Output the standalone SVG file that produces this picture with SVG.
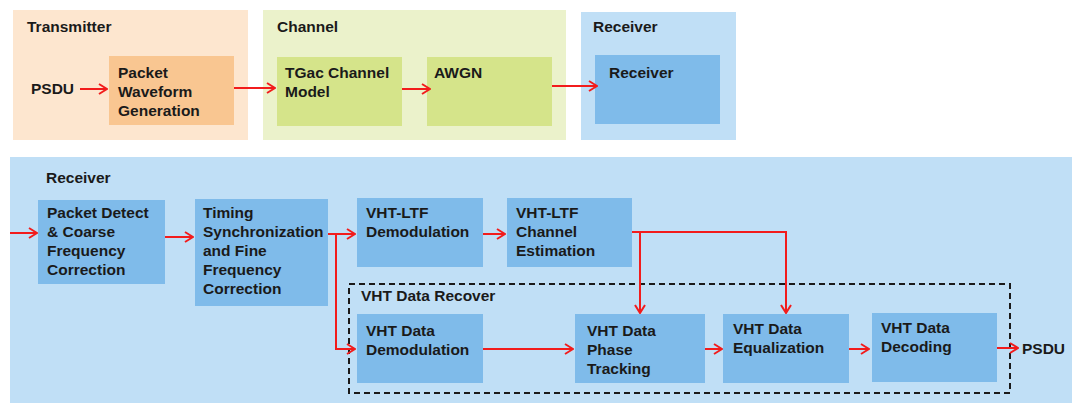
<svg xmlns="http://www.w3.org/2000/svg" width="1072" height="403" viewBox="0 0 1072 403">
<style>
text{font-family:"Liberation Sans",Arial,sans-serif;font-weight:bold;font-size:15.5px;fill:#1a1a1a}
.tx-panel{fill:#fde6cf}
.tx-box{fill:#f9c691}
.ch-panel{fill:#ebf2cb}
.ch-box{fill:#d5e48a}
.rx-panel{fill:#c0dff6}
.rx-box{fill:#7fbbea}
.conn{fill:none;stroke:#f21c1c;stroke-width:2}
</style>
<defs>
<marker id="ah" viewBox="0 0 10 12" refX="9" refY="6" markerWidth="10" markerHeight="12" markerUnits="userSpaceOnUse" orient="auto">
<path d="M1,1 L9,6 L1,11" fill="none" stroke="#f21c1c" stroke-width="2"/>
</marker>
</defs>
<rect width="1072" height="403" fill="#ffffff"/>

<g id="transmitter-panel">
<rect class="tx-panel" x="13" y="10" width="235" height="130"/>
<text x="27" y="32">Transmitter</text>
</g>
<g id="channel-panel">
<rect class="ch-panel" x="263" y="10" width="303" height="130"/>
<text x="277" y="32">Channel</text>
</g>
<g id="receiver-panel-top">
<rect class="rx-panel" x="581" y="12" width="155" height="128"/>
<text x="593" y="32">Receiver</text>
</g>
<g id="receiver-panel-bottom">
<rect class="rx-panel" x="10" y="157" width="1062" height="246"/>
<text x="46" y="183">Receiver</text>
</g>

<g id="psdu-in"><text x="31" y="94">PSDU</text></g>
<g id="packet-waveform">
<rect class="tx-box" x="109" y="56" width="125" height="69"/>
<text x="118" y="78">Packet</text>
<text x="118" y="97">Waveform</text>
<text x="118" y="116">Generation</text>
</g>
<g id="tgac">
<rect class="ch-box" x="277" y="57" width="125" height="69"/>
<text x="285" y="78">TGac Channel</text>
<text x="285" y="97">Model</text>
</g>
<g id="awgn">
<rect class="ch-box" x="427" y="57" width="125" height="69"/>
<text x="434" y="78">AWGN</text>
</g>
<g id="receiver-box">
<rect class="rx-box" x="595" y="55" width="125" height="69"/>
<text x="609" y="78">Receiver</text>
</g>

<g id="packet-detect">
<rect class="rx-box" x="38" y="200" width="127" height="84"/>
<text x="47" y="218">Packet Detect</text>
<text x="47" y="237">&amp; Coarse</text>
<text x="47" y="256">Frequency</text>
<text x="47" y="275">Correction</text>
</g>
<g id="timing">
<rect class="rx-box" x="195" y="199" width="133" height="107"/>
<text x="203" y="218">Timing</text>
<text x="203" y="237">Synchronization</text>
<text x="203" y="256">and Fine</text>
<text x="203" y="275">Frequency</text>
<text x="203" y="294">Correction</text>
</g>
<g id="vhtltf-demod">
<rect class="rx-box" x="357" y="198" width="126" height="69"/>
<text x="366" y="218">VHT-LTF</text>
<text x="366" y="237">Demodulation</text>
</g>
<g id="vhtltf-chest">
<rect class="rx-box" x="507" y="198" width="125" height="69"/>
<text x="516" y="218">VHT-LTF</text>
<text x="516" y="237">Channel</text>
<text x="516" y="256">Estimation</text>
</g>

<g id="vht-data-recover">
<rect x="349" y="284" width="661" height="109" fill="none" stroke="#1a1a1a" stroke-width="2" stroke-dasharray="6,4"/>
<text x="361" y="301">VHT Data Recover</text>
</g>
<g id="vht-data-demod">
<rect class="rx-box" x="357" y="314" width="126" height="69"/>
<text x="366" y="336">VHT Data</text>
<text x="366" y="355">Demodulation</text>
</g>
<g id="vht-phase">
<rect class="rx-box" x="575" y="314" width="130" height="69"/>
<text x="587" y="336">VHT Data</text>
<text x="587" y="355">Phase</text>
<text x="587" y="374">Tracking</text>
</g>
<g id="vht-eq">
<rect class="rx-box" x="723" y="314" width="126" height="69"/>
<text x="733" y="334">VHT Data</text>
<text x="733" y="353">Equalization</text>
</g>
<g id="vht-decode">
<rect class="rx-box" x="872" y="313" width="125" height="69"/>
<text x="881" y="333">VHT Data</text>
<text x="881" y="352">Decoding</text>
</g>
<g id="psdu-out"><text x="1022" y="354">PSDU</text></g>

<g id="connectors">
<path class="conn" d="M80,89 H107" marker-end="url(#ah)"/>
<path class="conn" d="M234,88 H275" marker-end="url(#ah)"/>
<path class="conn" d="M402,89 H430" marker-end="url(#ah)"/>
<path class="conn" d="M552,86 H597" marker-end="url(#ah)"/>
<path class="conn" d="M10,233 H37" marker-end="url(#ah)"/>
<path class="conn" d="M165,237 H193" marker-end="url(#ah)"/>
<path class="conn" d="M328,234 H355" marker-end="url(#ah)"/>
<path class="conn" d="M336,234 V349 H355" marker-end="url(#ah)"/>
<path class="conn" d="M483,234 H505" marker-end="url(#ah)"/>
<path class="conn" d="M632,232 H786 V313" marker-end="url(#ah)"/>
<path class="conn" d="M640,232 V313" marker-end="url(#ah)"/>
<path class="conn" d="M483,349 H573" marker-end="url(#ah)"/>
<path class="conn" d="M705,349 H722" marker-end="url(#ah)"/>
<path class="conn" d="M849,349 H869" marker-end="url(#ah)"/>
<path class="conn" d="M997,348 H1018" marker-end="url(#ah)"/>
</g>
</svg>
